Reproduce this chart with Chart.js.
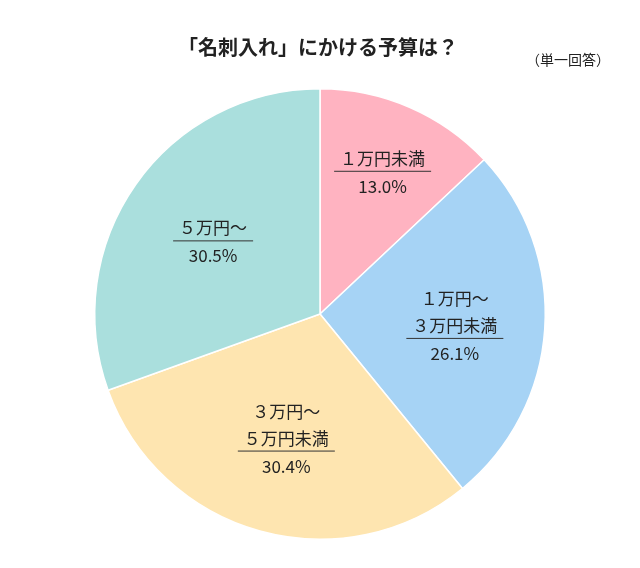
<!DOCTYPE html>
<html>
<head>
<meta charset="utf-8">
<script src="https://cdn.jsdelivr.net/npm/chart.js@4"></script>
<style>
  body { margin: 0; background: #fff; }
  #wrap { width: 640px; height: 568px; }
</style>
</head>
<body>
<div id="wrap"><canvas id="pieChart"></canvas></div>
<script>
const labels = [["１万円未満"], ["１万円～", "３万円未満"], ["３万円～", "５万円未満"], ["５万円～"]];
const values = [13.0, 26.1, 30.4, 30.5];
const colors = ["#FFB3C1", "#A6D3F5", "#FEE5B0", "#AADFDD"];
const labelRadius = [0.7, 0.6, 0.56, 0.58];

const FONT = '"Noto Sans CJK JP", "Noto Sans", sans-serif';

// draws title, note and the slice labels
const textPlugin = {
  id: "textPlugin",
  afterDraw(chart) {
    const ctx = chart.ctx;
    ctx.save();
    ctx.fillStyle = "#222";
    ctx.textAlign = "center";
    ctx.textBaseline = "middle";
    ctx.font = "bold 20px " + FONT;
    ctx.fillText("「名刺入れ」にかける予算は？", 318, 47);
    ctx.font = "14px " + FONT;
    ctx.fillText("（単一回答）", 568, 60);

    const arcs = chart.getDatasetMeta(0).data;
    ctx.font = "17px " + FONT;
    arcs.forEach((arc, i) => {
      const mid = (arc.startAngle + arc.endAngle) / 2;
      const r = arc.outerRadius * labelRadius[i];
      const cx = arc.x + Math.cos(mid) * r;
      const cy = arc.y + Math.sin(mid) * r;
      const lines = labels[i];
      const lh = 27;
      const ruleY = cy + (lines.length - 1) * lh / 2 + 2;
      let w = 0;
      lines.forEach((t) => { w = Math.max(w, ctx.measureText(t).width); });
      lines.forEach((t, j) => {
        ctx.fillText(t, cx, ruleY - 13 - (lines.length - 1 - j) * lh);
      });
      ctx.strokeStyle = "#333";
      ctx.lineWidth = 1;
      ctx.beginPath();
      ctx.moveTo(cx - w / 2 - 6, ruleY);
      ctx.lineTo(cx + w / 2 + 6, ruleY);
      ctx.stroke();
      ctx.fillText(values[i].toFixed(1) + "%", cx, ruleY + 15);
    });
    ctx.restore();
  },
};

new Chart(document.getElementById("pieChart"), {
  type: "pie",
  data: {
    labels: labels.map((l) => l.join("")),
    datasets: [{
      data: values,
      backgroundColor: colors,
      borderColor: "#fff",
      borderWidth: 1.5,
    }],
  },
  options: {
    responsive: true,
    maintainAspectRatio: false,
    animation: false,
    layout: { padding: { top: 88, bottom: 28 } },
    plugins: {
      legend: { display: false },
      tooltip: { enabled: false },
    },
  },
  plugins: [textPlugin],
});
</script>
</body>
</html>
